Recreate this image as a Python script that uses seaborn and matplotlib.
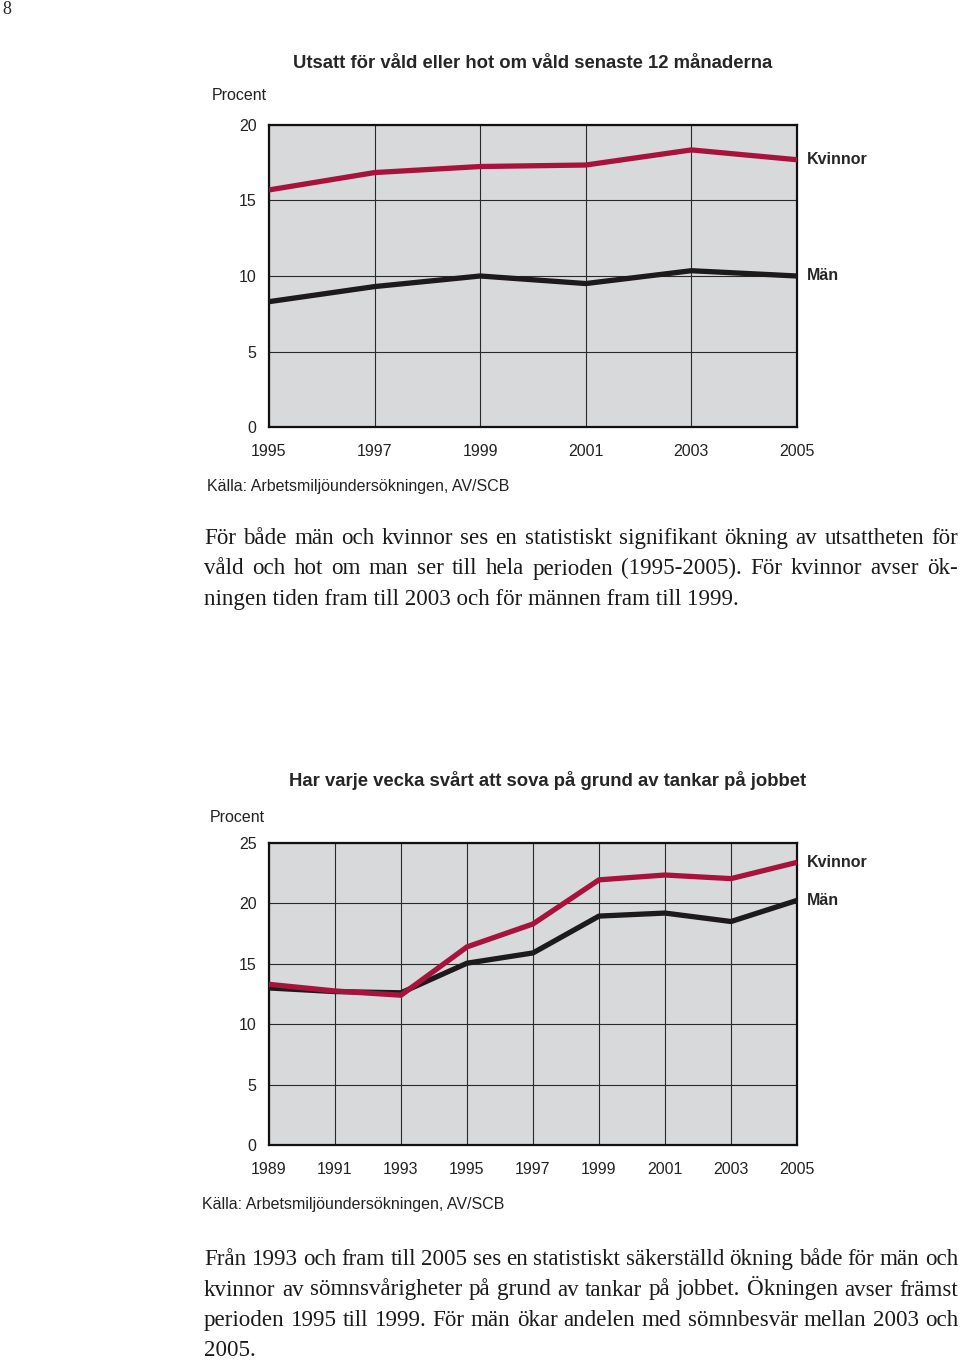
import pandas as pd
import seaborn as sns
import matplotlib.pyplot as plt

# --- data ---
years_top = [1995, 1997, 1999, 2001, 2003, 2005]
kvinnor_top = [15.7, 16.85, 17.25, 17.35, 18.35, 17.7]
man_top = [8.3, 9.3, 10.0, 9.5, 10.35, 10.0]

years_bot = [1989, 1991, 1993, 1995, 1997, 1999, 2001, 2003, 2005]
kvinnor_bot = [13.3, 12.75, 12.4, 16.4, 18.3, 21.95, 22.35, 22.05, 23.4]
man_bot = [13.0, 12.7, 12.6, 15.05, 15.9, 18.95, 19.2, 18.5, 20.25]

yticks_top = [0, 5, 10, 15, 20]
yticks_bot = [0, 5, 10, 15, 20, 25]

title_top = "Utsatt för våld eller hot om våld senaste 12 månaderna"
title_bot = "Har varje vecka svårt att sova på grund av tankar på jobbet"
source = "Källa: Arbetsmiljöundersökningen, AV/SCB"

text_top = [
    "För både män och kvinnor ses en statistiskt signifikant ökning av utsattheten för",
    "våld och hot om man ser till hela perioden (1995-2005). För kvinnor avser ök-",
    "ningen tiden fram till 2003 och för männen fram till 1999.",
]
text_bot = [
    "Från 1993 och fram till 2005 ses en statistiskt säkerställd ökning både för män och",
    "kvinnor av sömnsvårigheter på grund av tankar på jobbet. Ökningen avser främst",
    "perioden 1995 till 1999. För män ökar andelen med sömnbesvär mellan 2003 och",
    "2005.",
]

RED = "#a8133e"
BLACK = "#1c1a1b"
BG = "#d8d9db"

sns.set_style("white")
plt.rcParams["font.family"] = ["Liberation Sans", "DejaVu Sans"]

W, H = 960, 1361
fig = plt.figure(figsize=(9.6, 13.61), dpi=100)
renderer = fig.canvas.get_renderer()


def fx(x):
    return x / W


def fy(y):
    return 1 - y / H


def make_chart(top, years, kv, mn, yticks, ymax):
    ax = fig.add_axes([fx(269), fy(top + 302), fx(528), 302 / H])
    ax.set_facecolor(BG)
    df = pd.DataFrame({"year": years, "Kvinnor": kv, "Män": mn})
    sns.lineplot(data=df, x="year", y="Män", color=BLACK, lw=3.8, ax=ax,
                 solid_capstyle="butt", zorder=3)
    sns.lineplot(data=df, x="year", y="Kvinnor", color=RED, lw=3.8, ax=ax,
                 solid_capstyle="butt", zorder=4)
    ax.set_xlim(years[0], years[-1])
    ax.set_ylim(0, ymax)
    ax.set_xticks(years)
    ax.set_yticks(yticks)
    ax.grid(True, color="#2a2a2a", lw=0.8)
    ax.set_axisbelow(True)
    for s in ax.spines.values():
        s.set_color("#111111")
        s.set_linewidth(1.6)
    ax.tick_params(length=0, labelsize=11.5, colors="#222222")
    ax.tick_params(axis="x", pad=12)
    ax.tick_params(axis="y", pad=9)
    ax.set_xlabel("")
    ax.set_ylabel("")
    ax.annotate("Kvinnor", (years[-1], kv[-1]), xytext=(7, 0),
                textcoords="offset points", va="center", ha="left",
                fontsize=11.5, fontweight="bold", annotation_clip=False)
    ax.annotate("Män", (years[-1], mn[-1]), xytext=(7, 0),
                textcoords="offset points", va="center", ha="left",
                fontsize=11.5, fontweight="bold", annotation_clip=False)
    return ax


def paragraph(lines, x0, x1, base0, step, size=16.6):
    # justified body text on a common baseline, last line left aligned
    for i, line in enumerate(lines):
        y = fy(base0 + i * step)
        words = line.split(" ")
        if i == len(lines) - 1 or len(words) < 2:
            fig.text(fx(x0), y, line, fontsize=size, family="Liberation Serif",
                     va="baseline", color="#1a1a1a")
            continue
        objs = [fig.text(0, y, w, fontsize=size, family="Liberation Serif",
                         va="baseline", color="#1a1a1a") for w in words]
        widths = [t.get_window_extent(renderer).width for t in objs]
        gap = (x1 - x0 - sum(widths)) / (len(words) - 1)
        x = x0
        for t, w in zip(objs, widths):
            t.set_x(fx(x))
            x += w + gap


make_chart(125, years_top, kvinnor_top, man_top, yticks_top, 20)
make_chart(843, years_bot, kvinnor_bot, man_bot, yticks_bot, 25)

# page number
fig.text(fx(2), fy(10), "8", fontsize=13, family="Liberation Serif", va="center")

# top chart texts
fig.text(fx(533), fy(63), title_top, fontsize=13.3, fontweight="bold", ha="center", va="center")
fig.text(fx(212), fy(96), "Procent", fontsize=11.5, va="center", color="#222222")
fig.text(fx(207), fy(487), source, fontsize=11.5, va="center", color="#222222")
paragraph(text_top, 204, 958, 544, 30.5)

# bottom chart texts
fig.text(fx(548), fy(781), title_bot, fontsize=13.3, fontweight="bold", ha="center", va="center")
fig.text(fx(210), fy(817), "Procent", fontsize=11.5, va="center", color="#222222")
fig.text(fx(202), fy(1205), source, fontsize=11.5, va="center", color="#222222")
paragraph(text_bot, 204, 958, 1265, 30.5)

fig.savefig("out.png", dpi=100, facecolor="white")
